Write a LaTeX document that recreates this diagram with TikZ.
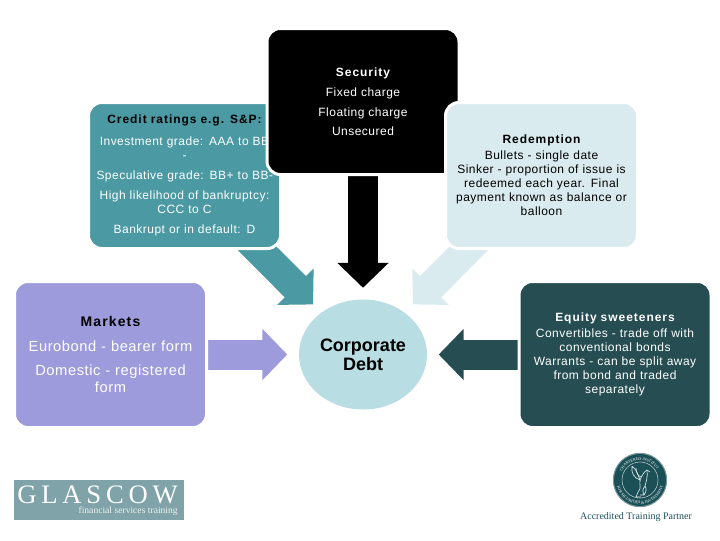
\documentclass[tikz,border=0pt]{standalone}
\usepackage{fontspec}
\setmainfont[LetterSpace=4,BoldFeatures={LetterSpace=8}]{Liberation Sans}
\newfontfamily\debtfont{Liberation Sans}
\newfontfamily\logofont{Liberation Serif}
\newfontfamily\logowide[LetterSpace=18]{Liberation Serif}
\usetikzlibrary{arrows.meta, shapes.geometric, decorations.text}
\definecolor{cteal}{HTML}{4A99A3}
\definecolor{cpale}{HTML}{D9EBEE}
\definecolor{cviolet}{HTML}{9D9BDC}
\definecolor{cdark}{HTML}{254D52}
\definecolor{ccircle}{HTML}{B8DDE2}
\definecolor{clogo}{HTML}{7FA3A8}
\definecolor{cseal}{HTML}{1C5057}
\tikzset{
  every picture/.style={x=0.75pt, y=-0.75pt},
  box/.style={draw=white, fill=#1, line width=2.25pt, rounded corners=10pt, align=center, inner sep=0pt,
              minimum width=144pt, minimum height=109.5pt, text width=132pt, font=\fontsize{9}{10.5}\selectfont,
              execute at begin node={\vspace*{1.5pt}}},
  link/.style={-{Triangle[length=18.75pt, width=37.5pt]}, draw=#1, line width=22.5pt, shorten >=8.6pt},
  griffin/.style={draw=white!85!cseal, line width=0.5pt},
}
\begin{document}
\begin{tikzpicture}
  \useasboundingbox (0,0) rectangle (720,540);
  \node[ellipse, fill=ccircle, minimum width=96pt, minimum height=82.5pt, inner sep=0pt, align=center,
        font=\debtfont\bfseries\fontsize{13.5}{14.25}\selectfont] (debt) at (363,354.5) {Corporate\\Debt};
  % the boxes come after the links and cover their tails
  \coordinate (creditc) at (184.5,175.5);
  \coordinate (securityc) at (363,101.5);
  \coordinate (redemptionc) at (541.5,175.5);
  \coordinate (marketsc) at (110.5,354.5);
  \coordinate (equityc) at (615,354.5);
  \draw[link=cteal] (creditc) -- (debt);
  \draw[link=black] (securityc) -- (debt);
  \draw[link=cpale] (redemptionc) -- (debt);
  \draw[link=cviolet] (marketsc) -- (debt);
  \draw[link=cdark] (equityc) -- (debt);
  \node[box=cteal, text=white] (credit) at (creditc) {{\bfseries\color{black}Credit ratings e.g. S\&P:}\\[4.5pt]
    Investment grade: AAA to BB\hspace*{6pt}\\-\\[4.5pt]Speculative grade: BB+ to BB-\\[4pt]High likelihood of bankruptcy:\\CCC to C\\[4.5pt]Bankrupt or in default: D};
  \node[box=black, text=white] (security) at (securityc) {{\bfseries Security}\\[3.5pt]Fixed charge\\[4pt]Floating charge\\[4pt]Unsecured};
  \node[box=cpale] (redemption) at (redemptionc) {{\bfseries Redemption}\\Bullets - single date\\Sinker - proportion of issue is\\redeemed each year. Final\\payment known as balance or\\balloon};
  \node[box=cviolet, text=white, font=\fontsize{11}{12.75}\selectfont] (markets) at (marketsc) {{\bfseries\color{black}\fontsize{10.5}{12.75}\selectfont Markets}\\[4.5pt]Eurobond - bearer form\\[5.25pt]Domestic - registered\\form};
  \node[box=cdark, text=white] (equity) at (equityc) {{\bfseries Equity sweeteners}\\Convertibles - trade off with\\conventional bonds\\Warrants - can be split away\\from bond and traded\\separately};
  % logo and seal
  \node[fill=clogo, minimum width=127.5pt, minimum height=30pt, inner sep=0pt] (logo) at (99,500) {};
  \node[text=white, inner sep=0pt, anchor=base west, font=\logowide\fontsize{20}{20}\selectfont] (logoname) at (17,503) {GLASCOW};
  \node[text=white!85!clogo, inner sep=0pt, anchor=base east, font=\logofont\fontsize{7.2}{8}\selectfont] (logotag) at (178,513) {financial services training};
  \node[circle, fill=cseal, draw=cseal!60, line width=0.75pt, minimum size=40pt, inner sep=0pt] (seal) at (640,480) {};
  \node[circle, draw=white!70!cseal, line width=0.4pt, minimum size=27pt, inner sep=0pt] (sealring) at (seal) {};
  \path[decorate, decoration={text along path, text align=center,
        text={|\logofont\fontsize{3}{3}\selectfont\color{white}|CHARTERED INSTITUTE}}]
    (seal) ++(150:15pt) arc[start angle=150, end angle=30, radius=15pt];
  \path[decorate, decoration={text along path, text align=center,
        text={|\logofont\fontsize{3}{3}\selectfont\color{white}|FOR SECURITIES {\&} INVESTMENT}}]
    (seal) ++(190:18pt) arc[start angle=190, end angle=350, radius=18pt];
  \draw[griffin] (632,466) .. controls (631,473) and (634,478) .. (640,480) .. controls (638,475) and (637,470) .. (632,466);
  \draw[griffin] (636,468) .. controls (636,473) and (638,476) .. (641,477);
  \draw[griffin] (640,480) .. controls (642,475) and (644,472) .. (647,470) -- (650,472);
  \draw[griffin] (647,470) .. controls (648,477) and (646,482) .. (645,486) .. controls (647,489) and (646,492) .. (644,495);
  \draw[griffin] (640,480) .. controls (639,485) and (642,488) .. (638,492) -- (636,497) -- (641,497);
  \draw[griffin] (645,486) .. controls (643,488) and (642,490) .. (644,495) -- (640,495);
  \node[text=cseal, inner sep=0pt, font=\logofont\fontsize{7.5}{8}\selectfont] (partner) at (636,517) {Accredited Training Partner};
\end{tikzpicture}
\end{document}
